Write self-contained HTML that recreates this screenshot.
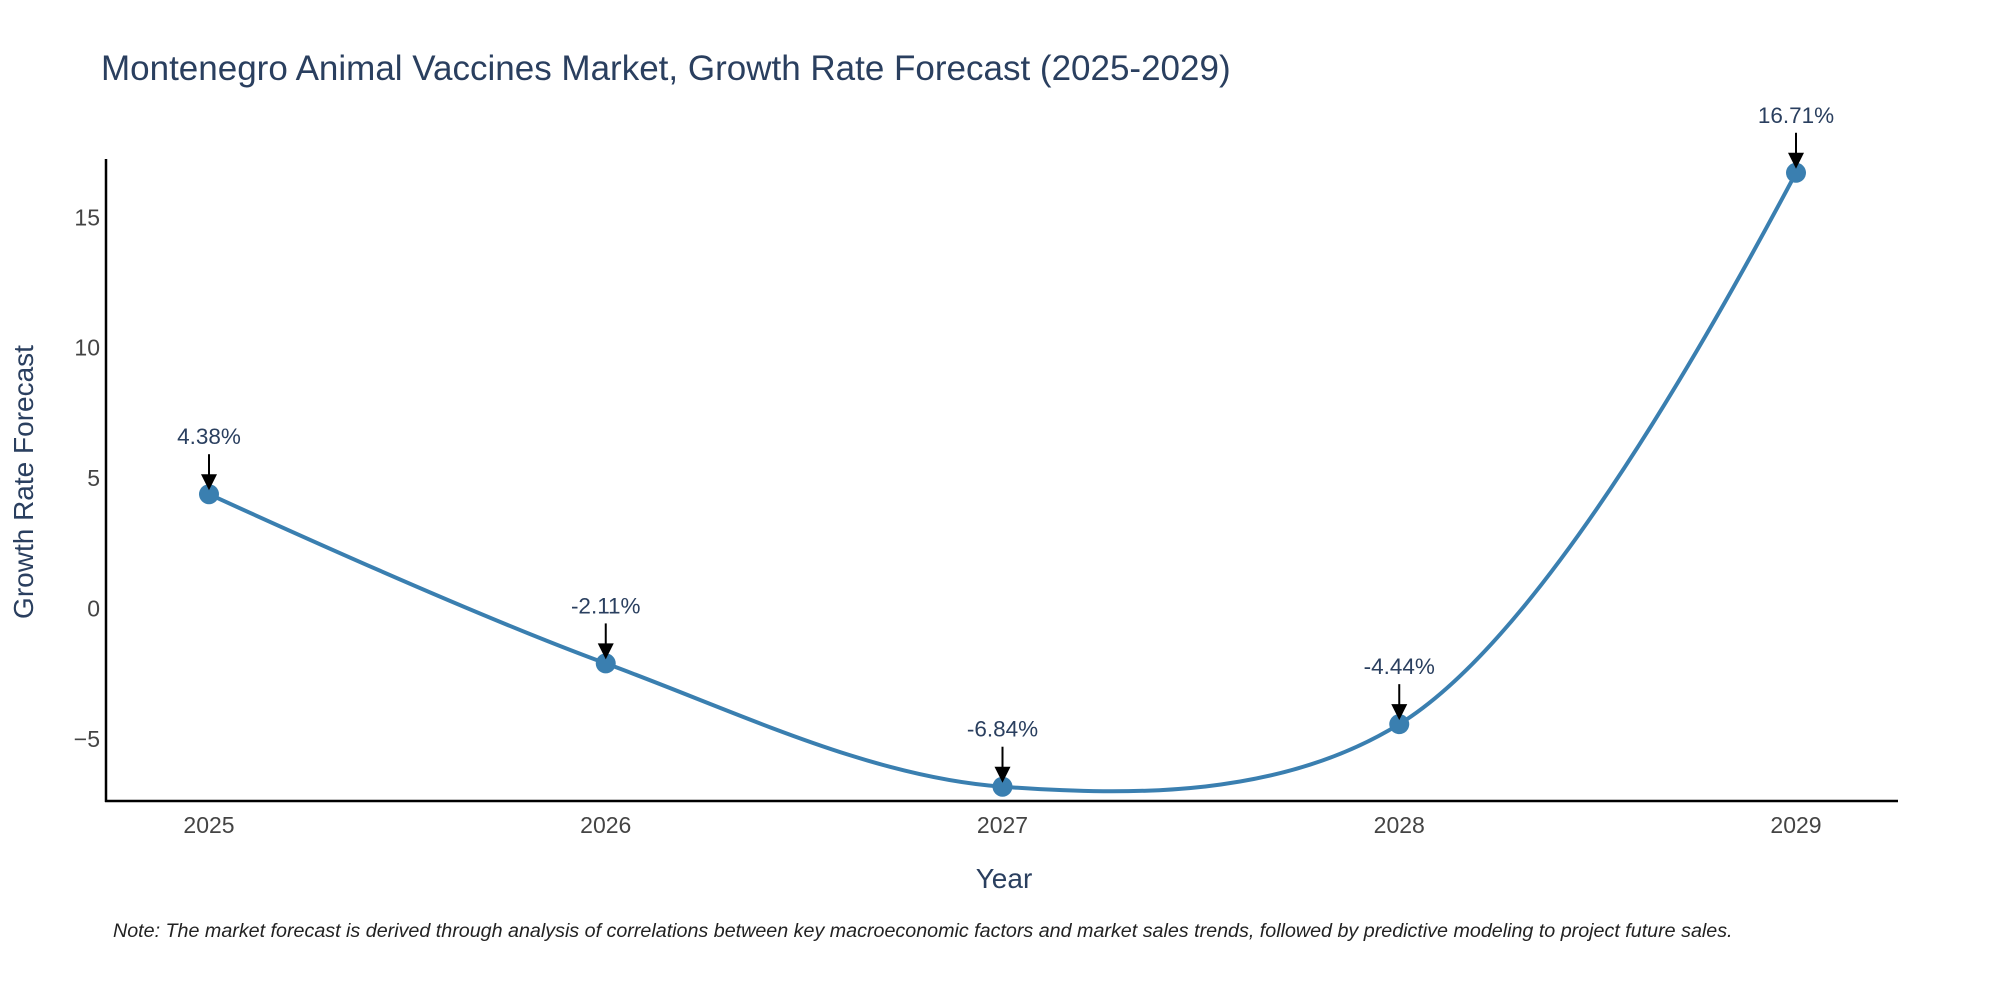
<!DOCTYPE html>
<html><head><meta charset="utf-8"><style>
body{margin:0;background:#fff;}
svg{font-family:"Liberation Sans",sans-serif;display:block;}
</style></head><body>
<svg width="2000" height="1000" viewBox="0 0 2000 1000">
<text x="101" y="80" font-size="35" fill="#2a3f5f">Montenegro Animal Vaccines Market, Growth Rate Forecast (2025-2029)</text>
<g id="yticks"></g>
<g id="xticks"></g>
<line x1="106" y1="159" x2="106" y2="802" stroke="#000" stroke-width="2.5"/>
<line x1="105" y1="801" x2="1898" y2="801" stroke="#000" stroke-width="2.5"/>
<path id="line" fill="none" stroke="#3a7fb0" stroke-width="4"/>
<g id="marks"></g>
<text transform="translate(33,482) rotate(-90)" text-anchor="middle" font-size="28" fill="#2a3f5f">Growth Rate Forecast</text>
<text x="1004" y="888" text-anchor="middle" font-size="28" fill="#2a3f5f">Year</text>
<text x="113" y="937" font-size="19.7" font-style="italic" fill="#222">Note: The market forecast is derived through analysis of correlations between key macroeconomic factors and market sales trends, followed by predictive modeling to project future sales.</text>
</svg>
<script>
const years = [2025, 2026, 2027, 2028, 2029];
const growth = [4.38, -2.11, -6.84, -4.44, 16.71];
const yTicks = [-5, 0, 5, 10, 15];
const yTickLabels = ["\u22125", "0", "5", "10", "15"];
const NS = "http://www.w3.org/2000/svg";
function X(v){ return 209 + (v - 2025) * 396.75; }
function Y(v){ return 608.4 - v * 26.07; }
function el(t, a){ const e=document.createElementNS(NS,t); for(const k in a) e.setAttribute(k,a[k]); return e; }
const yt=document.getElementById('yticks');
yTicks.forEach((v,i)=>{
  const t=el('text',{x:100,y:Y(v)+8,'text-anchor':'end','font-size':23,fill:'#444'});
  t.textContent=yTickLabels[i];
  
  
  yt.appendChild(t);
});
const xt=document.getElementById('xticks');
years.forEach(v=>{
  const t=el('text',{x:X(v),y:833,'text-anchor':'middle','font-size':23,fill:'#444'});
  t.textContent=String(v);
  
  
  xt.appendChild(t);
});
const pts=years.map((y,i)=>[X(y),Y(growth[i])]);
function tangent(p,c,n,s){
  const d1x=p[0]-c[0],d1y=p[1]-c[1],d2x=n[0]-c[0],d2y=n[1]-c[1];
  const d1a=Math.pow(d1x*d1x+d1y*d1y,0.25),d2a=Math.pow(d2x*d2x+d2y*d2y,0.25);
  const nx=(d2a*d2a*d1x-d1a*d1a*d2x)*s,ny=(d2a*d2a*d1y-d1a*d1a*d2y)*s;
  const q1=3*d2a*(d1a+d2a),q2=3*d1a*(d1a+d2a);
  return [[c[0]+nx/q1,c[1]+ny/q1],[c[0]-nx/q2,c[1]-ny/q2]];
}
const tg=[];
for(let i=1;i<pts.length-1;i++) tg.push(tangent(pts[i-1],pts[i],pts[i+1],1));
let d='M'+pts[0]+'Q'+tg[0][0]+' '+pts[1];
for(let i=2;i<pts.length-1;i++) d+='C'+tg[i-2][1]+' '+tg[i-1][0]+' '+pts[i];
d+='Q'+tg[pts.length-3][1]+' '+pts[pts.length-1];
document.getElementById('line').setAttribute('d',d);
const mk=document.getElementById('marks');
pts.forEach((p,i)=>{
  const c=el('circle',{cx:p[0],cy:p[1],r:10,fill:'#3a7fb0'});
  
  
  mk.appendChild(c);
  const a=el('line',{x1:p[0],y1:p[1]-40,x2:p[0],y2:p[1]-18,stroke:'#000','stroke-width':2});
  
  
  mk.appendChild(a);
  const h=el('polygon',{points:(p[0]-8)+','+(p[1]-20)+' '+(p[0]+8)+','+(p[1]-20)+' '+p[0]+','+(p[1]-4),fill:'#000'});
  
  
  mk.appendChild(h);
  const t=el('text',{x:p[0],y:p[1]-50,'text-anchor':'middle','font-size':22.5,fill:'#2a3f5f'});
  t.textContent=growth[i].toFixed(2)+'%';
  
  
  mk.appendChild(t);
});
</script>
</body></html>
